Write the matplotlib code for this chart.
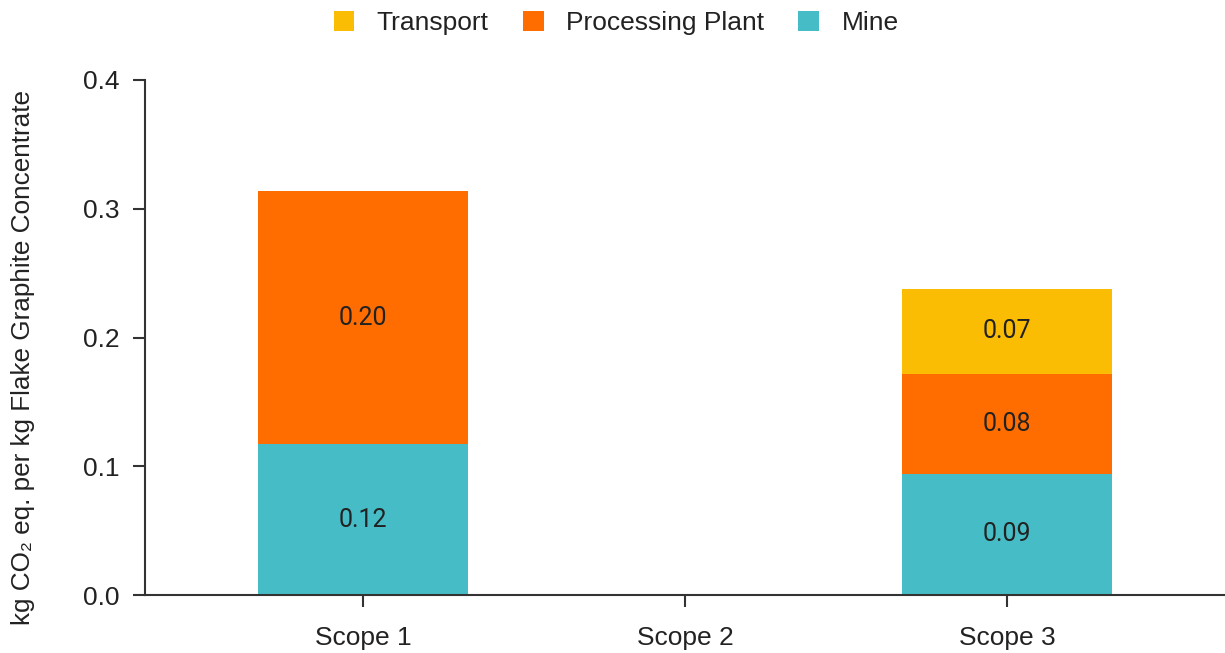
import matplotlib
matplotlib.use("Agg")
import matplotlib.pyplot as plt
import numpy as np

categories = ["Scope 1", "Scope 2", "Scope 3"]
mine = [0.117, 0.0, 0.094]
processing_plant = [0.197, 0.0, 0.078]
transport = [0.0, 0.0, 0.066]
y_ticks = [0.0, 0.1, 0.2, 0.3, 0.4]

colors = {"Mine": "#46BDC6", "Processing Plant": "#FF6D00", "Transport": "#FBBC04"}

plt.rcParams["font.family"] = ["Liberation Sans", "DejaVu Sans"]

fig = plt.figure(figsize=(12.25, 6.53), dpi=100)
ax = fig.add_axes([0.1184, 0.0888, 0.8816, 0.7887])

x = np.arange(len(categories))
width = 0.652
bottom = np.zeros(len(categories))
handles = {}
for name, vals in [("Mine", mine), ("Processing Plant", processing_plant), ("Transport", transport)]:
    vals = np.array(vals)
    bars = ax.bar(x, vals, width, bottom=bottom, color=colors[name], label=name, zorder=2)
    labels = [f"{v:.2f}" if v > 0 else "" for v in vals]
    ax.bar_label(bars, labels=labels, label_type="center", fontsize=18,
                 color="#222222", family=["Roboto", "DejaVu Sans"])
    handles[name] = bars
    bottom += vals

ax.set_xlim(-0.677, 2.677)
ax.set_ylim(0, 0.4)
ax.set_yticks(y_ticks)
ax.set_yticklabels([f"{t:.1f}" for t in y_ticks])
ax.set_xticks(x)
ax.set_xticklabels(categories)

for side in ["top", "right"]:
    ax.spines[side].set_visible(False)
for side in ["left", "bottom"]:
    ax.spines[side].set_color("#333333")
    ax.spines[side].set_linewidth(1.5)

ax.tick_params(axis="y", length=8.5, width=1.5, color="#333333", pad=10,
               labelsize=19, labelcolor="#222222")
ax.tick_params(axis="x", length=8.5, width=1.5, color="#333333", pad=14,
               labelsize=19, labelcolor="#222222")

ax.set_ylabel("kg CO\u2082 eq. per kg Flake Graphite Concentrate", fontsize=18.8,
              color="#222222")
ax.yaxis.set_label_coords(-0.102, 0.462)

order = ["Transport", "Processing Plant", "Mine"]
fig.legend([handles[n] for n in order], order, loc="center", bbox_to_anchor=(0.503, 0.965),
           ncol=3, frameon=False, fontsize=19, handlelength=0.78, handleheight=0.78,
           columnspacing=1.3, handletextpad=0.85, labelcolor="#222222")

fig.savefig("out.png", dpi=100)
